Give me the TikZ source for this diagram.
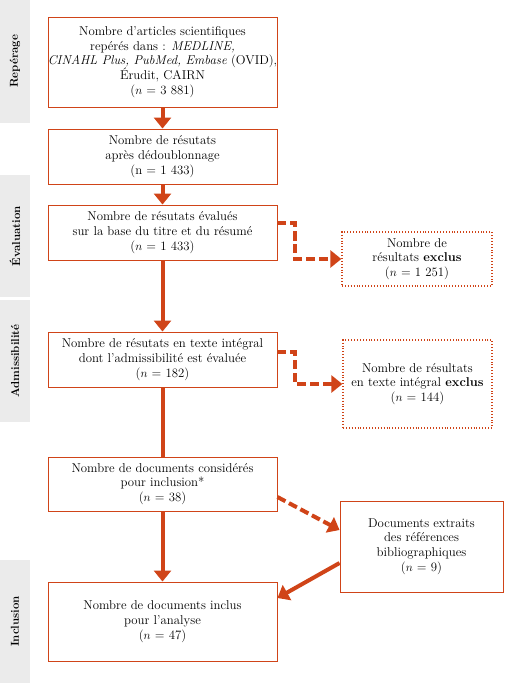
\documentclass[tikz,border=0pt]{standalone}
\usepackage{fontspec}
\usepackage{tikz}
\usetikzlibrary{arrows.meta}
\definecolor{rouille}{HTML}{D04418}
\definecolor{bande}{HTML}{EBEBEB}

\begin{document}
\begin{tikzpicture}[x=1pt,y=-1pt,
  boite/.style={draw=rouille, line width=0.9pt, align=center, inner sep=1pt,
    font=\fontsize{12.8}{14.8}\selectfont},
  exclu/.style={boite, dotted, line width=1.3pt},
  etape/.style={rotate=90, font=\fontsize{11.5}{14}\selectfont\bfseries},
  fleche/.style={rouille, line width=4pt, -{Triangle[width=17pt,length=11pt]}},
  trait/.style={rouille, line width=4pt},
  tirets/.style={fleche, dash pattern=on 9pt off 4pt}]
\useasboundingbox (0,0) rectangle (504,683);
% bandes des etapes
\fill [bande] (0,0) rectangle (30,123);
\fill [bande] (0,175) rectangle (30,297);
\fill [bande] (0,300) rectangle (30,422);
\fill [bande] (0,560) rectangle (30,683);
\node[etape] (rep) at (15,61.5) {Repérage};
\node[etape] (eva) at (15,236) {Évaluation};
\node[etape] (adm) at (15,361) {Admissibilité};
\node[etape] (inc) at (15,621.5) {Inclusion};
% colonne principale
\node[boite, minimum width=229, minimum height=90] (articles) at (162.5,62)
  {Nombre d’articles scientifiques\\
   repérés dans : \textit{MEDLINE,}\\
   \makebox[200pt]{\textit{CINAHL Plus, PubMed, Embase} (OVID),}\\
   Érudit, CAIRN\\
   ($n$ = 3~881)};
\node[boite, minimum width=229, minimum height=55] (dedoub) at (162.5,156.5)
  {Nombre de résutats\\ après dédoublonnage\\ (n = 1~433)};
\node[boite, minimum width=229, minimum height=55] (titre) at (162.5,232.5)
  {Nombre de résutats évalués\\ sur la base du titre et du résumé\\ ($n$ = 1~433)};
\node[boite, minimum width=229, minimum height=55] (integral) at (162.5,359.5)
  {Nombre de résutats en texte intégral\\ dont l’admissibilité est évaluée\\ ($n$ = 182)};
\node[boite, minimum width=229, minimum height=54] (consid) at (162.5,484)
  {Nombre de documents considérés\\ pour inclusion*\\ ($n$ = 38)};
\node[boite, minimum width=229, minimum height=79] (inclus) at (162.5,621.5)
  {Nombre de documents inclus\\ pour l’analyse\\ ($n$ = 47)};
% colonne de droite
\node[exclu, minimum width=150, minimum height=54] (excl1) at (417,259)
  {Nombre de\\ résultats \textbf{exclus}\\ ($n$ = 1~251)};
\node[exclu, minimum width=149, minimum height=88] (excl2) at (417.5,384)
  {Nombre de résultats\\ en texte intégral \textbf{exclus}\\ ($n$ = 144)};
\node[boite, minimum width=163, minimum height=91] (refs) at (421.5,546.5)
  {Documents extraits\\ des références\\ bibliographiques\\ ($n$ = 9)};
% liens
\coordinate (coude1) at (295,240);
\coordinate (coude2) at (295,370);
\draw [fleche] (articles) -- (dedoub);
\draw [fleche] (dedoub) -- (titre);
\draw [fleche] (titre) -- (integral);
\draw [trait] (integral) -- (consid);
\draw [fleche] (consid) -- (inclus);
\draw [tirets] ([yshift=9.5pt]titre.east) -| (coude1) |- (excl1.west);
\draw [tirets] ([yshift=7.5pt]integral.east) -| (coude2) |- (excl2.west);
\draw [tirets] ([yshift=-13pt]consid.east) -- ([yshift=16.5pt]refs.west);
\draw [fleche] ([yshift=-16.5pt]refs.west) -- ([yshift=23.5pt]inclus.east);
\end{tikzpicture}
\end{document}
